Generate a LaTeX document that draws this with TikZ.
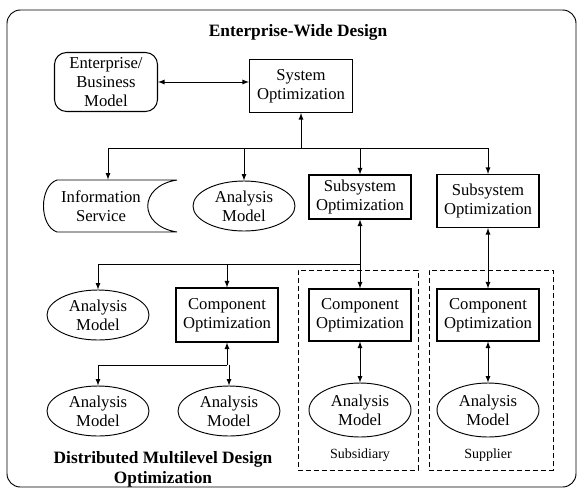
\documentclass[tikz,border=0pt]{standalone}
\usepackage{fontspec}
\setmainfont{Liberation Serif}
\usetikzlibrary{arrows,shapes.geometric}

\tikzset{
  optbox/.style = {draw, thick, minimum width=76.5pt, minimum height=39pt, inner sep=0pt, align=center},
  modelbox/.style = {draw, ellipse, minimum width=76.5pt, minimum height=39pt, inner sep=0pt, align=center},
  groupbox/.style = {draw, dashed, dash pattern=on 3.5pt off 2.5pt, minimum width=90pt, minimum height=150pt, inner sep=0pt},
  headline/.style = {font=\bfseries\fontsize{13}{15}\selectfont, align=center},
  smalltext/.style = {font=\fontsize{10.5}{12}\selectfont}
}

\begin{document}
\begin{tikzpicture}[>=latex, x=0.75pt, y=-0.75pt, line width=0.7pt,
  every node/.append style={font=\fontsize{12.5}{14.5}\selectfont}]
\useasboundingbox (0,0) rectangle (577,493);
\draw[rounded corners=10pt] (7,10) rectangle (576,487);
\node[headline] (title) at (298,32) {Enterprise-Wide Design};

% top level
\node[optbox, rounded corners=9pt, minimum width=77.25pt, minimum height=44.25pt] (ent) at (106,82) {Enterprise/\\Business\\Model};
\node[optbox, minimum width=77.25pt, minimum height=39.75pt] (sys) at (301,86) {System\\Optimization};
\draw[<->] (ent) -- (ent -| sys.west);

% second level
\node[align=center, minimum width=60pt, minimum height=39pt, inner sep=0pt] (info) at (101,206) {Information\\Service};
\draw[shift={(info.center)}] (-44,-26) -- (76,-26) .. controls (37,-20) and (37,20) .. (76,26)
  -- (-44,26) .. controls (-62,20) and (-62,-20) .. (-44,-26);
\node[modelbox, minimum height=37.5pt] (am1) at (244,206) {Analysis\\Model};
\node[optbox, minimum height=33pt] (sub1) at (360,197) {Subsystem\\Optimization};
\node[optbox, minimum height=39.75pt] (sub2) at (488,201) {Subsystem\\Optimization};
\coordinate (bus1) at (301,148);
\draw[<-] (sys.south) -- (bus1);
\draw ([xshift=5.25pt]info.north |- bus1) -- (sub2.north |- bus1);
\draw[->] ([xshift=5.25pt]info.north |- bus1) -- ([xshift=5.25pt]info.north);
\foreach \n in {am1,sub1,sub2}
  \draw[->] (\n.north |- bus1) -- (\n.north);

% third level
\node[modelbox, minimum height=37.5pt] (am2) at (98,315) {Analysis\\Model};
\node[optbox, minimum height=40.5pt] (comp1) at (227,315) {Component\\Optimization};
\node[groupbox] (subsid) at (358,370) {};
\node[groupbox, minimum width=93pt] (suppl) at (491,370) {};
\node[optbox] (comp2) at (360,315) {Component\\Optimization};
\node[optbox] (comp3) at (488,315) {Component\\Optimization};
\coordinate (bus2) at (360,264);
\draw[<-] (sub1.south) -- (bus2);
\draw (am2.north |- bus2) -- (bus2);
\foreach \n in {am2,comp1,comp2}
  \draw[->] (\n.north |- bus2) -- (\n.north);
\draw[<->] (sub2.south) -- (comp3.north);

% bottom level
\node[modelbox, minimum height=37.5pt] (am3) at (98,411) {Analysis\\Model};
\node[modelbox, minimum height=37.5pt] (am4) at (229,411) {Analysis\\Model};
\node[modelbox, minimum height=40.5pt] (am5) at (360,410) {Analysis\\Model};
\node[modelbox, minimum height=40.5pt] (am6) at (488,410) {Analysis\\Model};
\coordinate (bus3) at (227,365);
\draw[<-] (comp1.south) -- (bus3);
\draw (am3.north |- bus3) -- (bus3);
\foreach \n in {am3,am4}
  \draw[->] (\n.north |- bus3) -- (\n.north);
\draw[<->] (comp2) -- (am5);
\draw[<->] (comp3) -- (am6);

\node[smalltext] (sublabel) at (360,455) {Subsidiary};
\node[smalltext] (suplabel) at (488,455) {Supplier};
\node[headline] (dmdo) at (163,469) {Distributed Multilevel Design\\Optimization};
\end{tikzpicture}
\end{document}
